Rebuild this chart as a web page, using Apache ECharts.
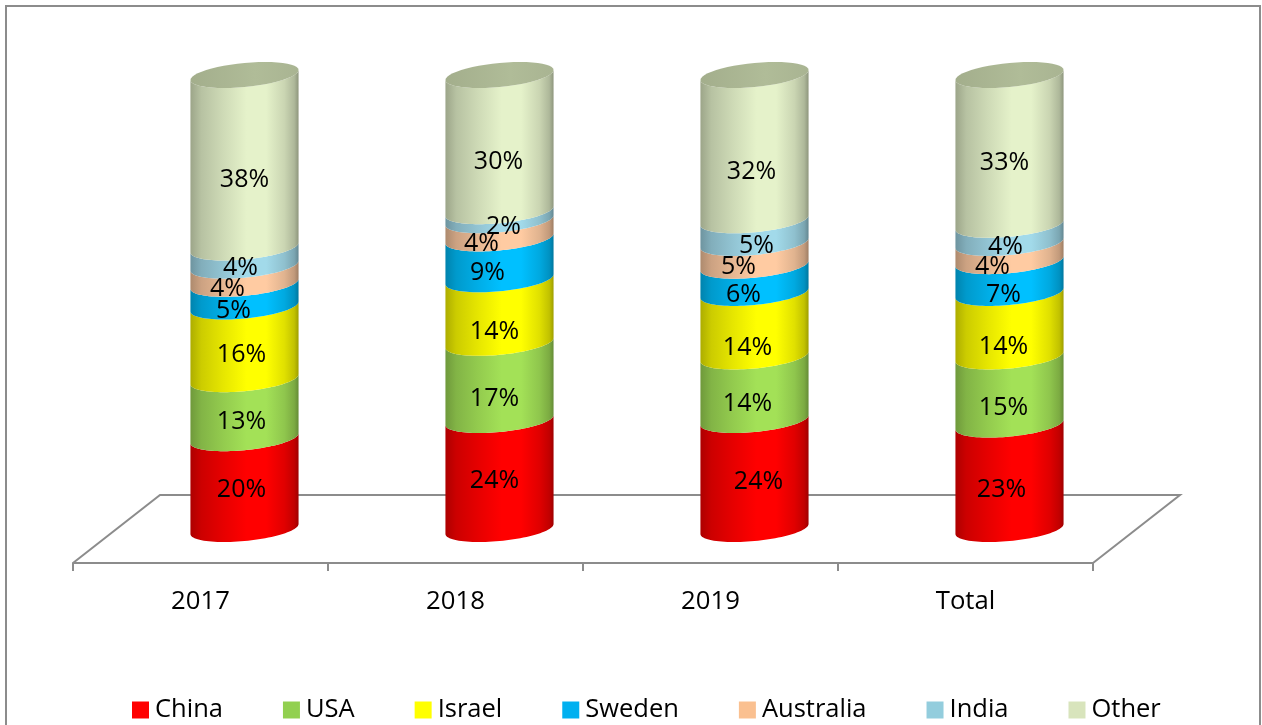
<!DOCTYPE html>
<html>
<head>
<meta charset="utf-8">
<style>html,body{margin:0;padding:0;background:#fff}#c{width:1262px;height:725px}</style>
<script src="https://cdn.jsdelivr.net/npm/echarts@6/dist/echarts.min.js"></script>
</head>
<body>
<div id="c"></div>
<script>
const categories = ['2017', '2018', '2019', 'Total'];
const china     = [20, 24, 24, 23];
const usa       = [13, 17, 14, 15];
const israel    = [16, 14, 14, 14];
const sweden    = [5, 9, 6, 7];
const australia = [4, 4, 5, 4];
const india     = [4, 2, 5, 4];
const other     = [38, 30, 32, 33];

const stack = [
  { name: 'China', values: china, color: '#FF0000', side: '#FF0000' },
  { name: 'USA', values: usa, color: '#92D050', side: '#A3E157' },
  { name: 'Israel', values: israel, color: '#FFFF00', side: '#FFFF00' },
  { name: 'Sweden', values: sweden, color: '#00B0F0', side: '#00C0FF' },
  { name: 'Australia', values: australia, color: '#FAC090', side: '#FFCBA2' },
  { name: 'India', values: india, color: '#93CDDD', side: '#A2DAEA' },
  { name: 'Other', values: other, color: '#D8E4BC', side: '#E5F2CA' }
];

// Label nudges as placed in the original (px), per series then per category.
const labelShiftX = [
  [-3, -5, 4, -8], [-3, -5, -7, -6], [-3, -5, -7, -6], [-11, -12, -11, -6],
  [-17, -18, -16, -17], [-4, 4, 2, -4], [0, -1, -3, -5]
];
const labelShiftY = [
  [-3, -3, -2, 4], [4, 8, 7, 8], [3, 12, 14, 13], [7, 5, 7, 9],
  [5, 6, 4, 6], [2, 2, 5, 4], [10, 10, 15, 4]
];

function shade(hex, f) {
  const n = parseInt(hex.slice(1), 16);
  const c = [(n >> 16) & 255, (n >> 8) & 255, n & 255].map(v => Math.round(v * f));
  return 'rgb(' + c.join(',') + ')';
}
function sideFill(hex) {
  const stops = [[0, .68], [.1, .8], [.3, .9], [.52, 1], [.7, 1], [.87, .88], [.96, .76], [1, .62]];
  return { type: 'linear', x: 0, y: 0, x2: 1, y2: 0,
    colorStops: stops.map(s => ({ offset: s[0], color: shade(hex, s[1]) })) };
}

const TILT = 5, RY = 12, STEPS = 48;
function rim(cx, cy, rx, from, to) {
  const pts = [];
  for (let i = 0; i <= STEPS; i++) {
    const t = from + (to - from) * i / STEPS;
    pts.push([cx + rx * Math.cos(t), cy + RY * Math.sin(t) - TILT * Math.cos(t)]);
  }
  return pts;
}

const series = stack.map((s, si) => {
  const data = categories.map((c, i) => {
    let base = 0;
    for (let k = 0; k < si; k++) base += stack[k].values[i];
    return [i, base, base + s.values[i]];
  });
  return {
    type: 'custom',
    name: s.name,
    xAxisIndex: 1,
    yAxisIndex: 1,
    itemStyle: { color: s.color },
    data: data,
    encode: { x: 0, y: [1, 2] },
    renderItem: function (params, api) {
      const i = api.value(0), lo = api.value(1), hi = api.value(2);
      const pLo = api.coord([i, lo]), pHi = api.coord([i, hi]);
      const cx = pLo[0], rx = api.size([1, 0])[0] * 0.212;
      const front = rim(cx, pLo[1], rx, Math.PI, 0);
      const back = rim(cx, pHi[1], rx, 0, Math.PI);
      const children = [{
        type: 'polygon',
        shape: { points: front.concat(back) },
        style: { fill: sideFill(s.side), stroke: null }
      }];
      if (si === stack.length - 1) {
        children.push({
          type: 'polygon',
          shape: { points: rim(cx, pHi[1], rx, 0, Math.PI * 2) },
          style: { fill: { type: 'linear', x: 0, y: 0, x2: 1, y2: 0, colorStops: [
            { offset: 0, color: '#A3AE8C' }, { offset: 0.6, color: '#B0BC98' }, { offset: 1, color: '#A9B492' }
          ] } }
        });
      }
      const mid = api.coord([i, (lo + hi) / 2]);
      children.push({
        type: 'text',
        z2: 100,
        style: {
          text: (hi - lo) + '%',
          x: cx + labelShiftX[si][i],
          y: mid[1] + 9 + labelShiftY[si][i],
          align: 'center',
          verticalAlign: 'middle',
          font: '25px "Open Sans"',
          fill: '#000'
        }
      });
      return { type: 'group', children: children };
    }
  };
});

const chart = echarts.init(document.getElementById('c'), null, { renderer: 'canvas' });
chart.setOption({
  animation: false,
  backgroundColor: '#fff',
  grid: [
    { left: 73, width: 1020, top: 75, height: 488 },
    { left: 117, width: 1020, top: 75, height: 454 }
  ],
  xAxis: [
    {
      type: 'category', gridIndex: 0, data: categories,
      axisLine: { lineStyle: { color: '#8C8C8C', width: 2 } },
      axisTick: { show: true, length: 8, alignWithLabel: false, lineStyle: { color: '#8C8C8C', width: 2 } },
      axisLabel: { color: '#000', fontFamily: 'Open Sans', fontSize: 25.7, margin: 26 },
      splitLine: { show: false }
    },
    { type: 'category', gridIndex: 1, data: categories, show: false }
  ],
  yAxis: [
    { type: 'value', gridIndex: 0, show: false, min: 0, max: 100 },
    { type: 'value', gridIndex: 1, show: false, min: 0, max: 100 }
  ],
  legend: {
    left: 132, top: 697, icon: 'rect', itemWidth: 17, itemHeight: 17, itemGap: 60,
    selectedMode: false, padding: 0,
    textStyle: { color: '#000', fontFamily: 'Open Sans', fontSize: 25.5, padding: [0, 0, 0, 1] },
    data: stack.map(s => s.name)
  },
  graphic: [
    { type: 'rect', z: -10, shape: { x: 6, y: 6, width: 1254, height: 740 },
      style: { fill: '#fff', stroke: '#8C8C8C', lineWidth: 2 } },
    { type: 'polyline', z: -5, shape: { points: [[73, 563], [160, 495], [1180, 495], [1093, 563]] },
      style: { fill: null, stroke: '#8C8C8C', lineWidth: 2 } }
  ],
  series: series
});
</script>
</body>
</html>
